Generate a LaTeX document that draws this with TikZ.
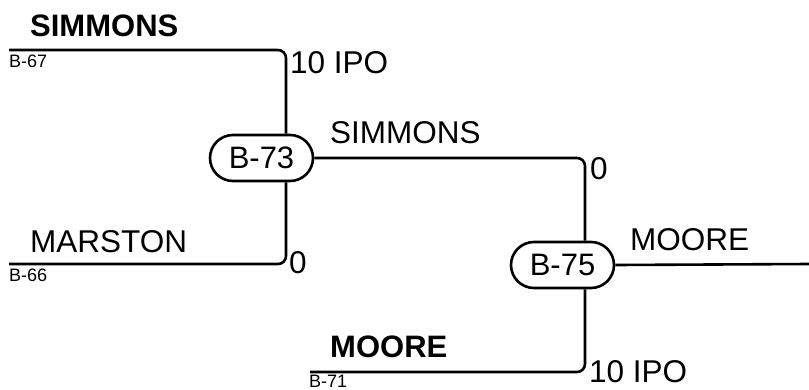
\documentclass[tikz,border=0pt]{standalone}
\usepackage{fontspec}
\setmainfont{Liberation Sans}
\begin{document}
\begin{tikzpicture}[x=1pt,y=-1pt,
  wire/.style={line width=2.6pt, rounded corners=8pt},
  game/.style={draw, line width=2.6pt, rounded corners=23pt, minimum width=103pt, minimum height=46pt, inner sep=0pt, font=\fontsize{31}{34}\selectfont},
  big/.style={anchor=base west, inner sep=0pt, font=\fontsize{31.5}{34}\selectfont},
  bigb/.style={anchor=base west, inner sep=0pt, font=\fontsize{31}{34}\selectfont\bfseries},
  small/.style={anchor=base west, inner sep=0pt, font=\fontsize{18}{20}\selectfont}]
\useasboundingbox (0,0) rectangle (809,389);
\coordinate (b67) at (9,50);
\coordinate (b66) at (9,264);
\coordinate (b71) at (310,372);
\coordinate (outR) at (809,264);
\node[game] (b73) at (261.5,158) {B-73};
\node[game] (b75) at (562.5,265) {B-75};
\draw[wire] (b67) -| ([xshift=24.5pt]b73.north);
\draw[wire] (b66) -| ([xshift=24.5pt]b73.south);
\draw[wire] (b73.east) -| ([xshift=22.5pt]b75.north);
\draw[wire] (b71) -| ([xshift=22.5pt]b75.south);
\draw[wire] (b75.east) -- (outR);
\node[bigb] (t1) at (30,36) {SIMMONS};
\node[small] (t2) at (9,67) {B-67};
\node[big] (t3) at (290,73) {10 IPO};
\node[big] (t4) at (330,143) {SIMMONS};
\node[big] (t5) at (590,179) {0};
\node[big] (t6) at (30,252) {MARSTON};
\node[big] (t7) at (289,273) {0};
\node[small] (t8) at (9,281) {B-66};
\node[big] (t9) at (630,250) {MOORE};
\node[bigb] (t10) at (330,357) {MOORE};
\node[small] (t11) at (309,387.3) {B-71};
\node[big] (t12) at (589,382) {10 IPO};
\end{tikzpicture}
\end{document}
